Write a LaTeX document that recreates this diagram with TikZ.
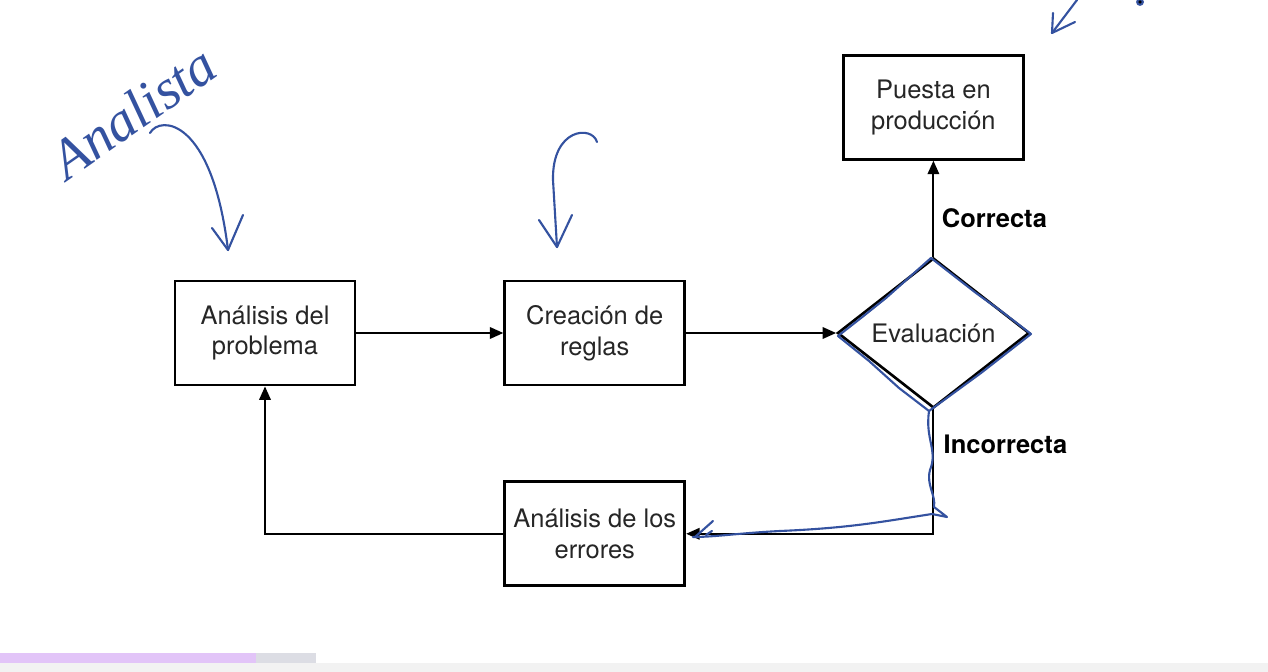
\documentclass[tikz,border=0pt]{standalone}
\usepackage{fontspec}
\setmainfont{TeX Gyre Heros}
\newfontfamily\handfont{Liberation Serif}
\usepackage{tikz}
\usetikzlibrary{arrows.meta}
\usetikzlibrary{positioning}
\usetikzlibrary{shapes.geometric}
\definecolor{pen}{RGB}{52,82,160}
\definecolor{barlila}{RGB}{226,196,248}
\definecolor{bargris}{RGB}{220,221,228}

\begin{document}
\begin{tikzpicture}[x=0.02cm, y=-0.02cm, ->,>={Triangle[length=0.27cm, width=0.23cm]}, line width=1.1pt,
      node distance=2.94cm, font=\fontsize{14.5}{17.5}\selectfont, text=black!85]
      \tikzstyle{box} = [draw, rectangle, line width=1.6pt, minimum width=3.6cm, minimum height=2.08cm, align=center, inner sep=2pt]
      \tikzstyle{decision} = [draw, diamond, line width=1.5pt, minimum width=3.84cm, minimum height=3cm, aspect=1.28, inner sep=0pt]
      \tikzstyle{lbl} = [font=\fontsize{14.5}{17.5}\selectfont\bfseries, text=black]
      \tikzstyle{pen} = [draw=pen, line width=1.2pt, -, line cap=round, line join=round]

      \useasboundingbox (0,0) rectangle (1268,672);
      %fondo
      \fill[white, -] (0,0) rectangle (1268,672);
      \fill[black!5, -] (0,663) rectangle (1268,672);
      \fill[barlila, -] (0,653) rectangle (256,663);
      \fill[bargris, -] (256,653) rectangle (316,663);

      %nodes
      \node[box]      (problema)   at (265,333)                  {Análisis del\\problema};
      \node[box]      (reglas)     [right=of problema]           {Creación de\\reglas};
      \node[decision] (evaluacion) [right=3cm of reglas]         {Evaluación};
      \node[box]      (puesta)     [above=1.92cm of evaluacion]  {Puesta en\\producción};
      \node[box]      (errores)    [below=1.88cm of reglas]      {Análisis de los\\errores};

      %lines
      \draw (problema) -- (reglas);
      \draw (reglas) -- (evaluacion);
      \draw (evaluacion) -- node[lbl, right, pos=0.4, xshift=1pt] {Correcta} (puesta);
      \draw (evaluacion.south) |- node[lbl, right, pos=0.14, xshift=2pt] {Incorrecta} (errores);
      \draw (errores) -| (problema);

      %notas a mano
      \node[text=pen, rotate=35, font=\handfont\itshape\fontsize{32}{32}\selectfont] (analista) at (133,112) {Analista};
      \draw[pen] (150,133) .. controls (160,115) and (212,118) .. (228,250);
      \draw[pen] (212,228) -- (228,250) -- (243,215);
      \draw[pen] (597,142) .. controls (592,125) and (552,128) .. (553,180) -- (557,247);
      \draw[pen] (539,220) -- (557,247) -- (572,215);
      \draw[pen] (1077,0) -- (1052,33);
      \draw[pen] (1053,13) -- (1052,33) -- (1075,22);
      \fill[pen, -] (1140,2) circle (1.6pt);
      \draw[pen] (838,336) -- (861,318) -- (886,298) -- (931,258) -- (976,293) -- (1001,311) -- (1031,334)
            -- (981,373) -- (929,411) -- (899,388) -- (869,361) -- cycle;
      \draw[pen] (929,411) .. controls (925,440) and (938,450) .. (930,470) .. controls (926,485) and (936,495) .. (934,507)
            -- (947,517) -- (932,514) .. controls (880,522) and (850,528) .. (780,531)
            .. controls (740,533) and (715,537) .. (693,537);
      \draw[pen] (713,521) -- (695,537);
      \draw[pen] (706,535) -- (712,531);
\end{tikzpicture}
\end{document}
